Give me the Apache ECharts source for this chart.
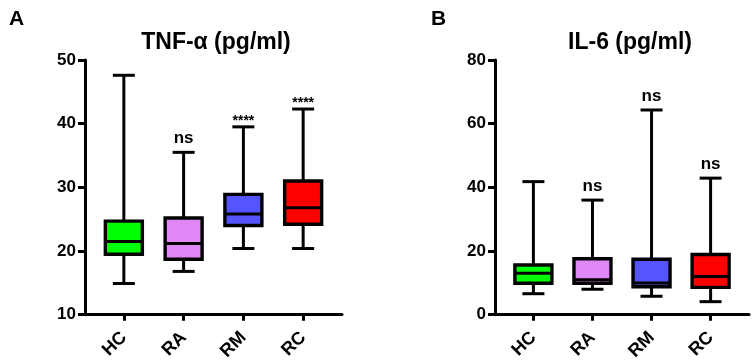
<!DOCTYPE html>
<html>
<head>
<meta charset="utf-8">
<script src="https://cdn.jsdelivr.net/npm/echarts@6/dist/echarts.min.js"></script>
<style>
  html, body { margin: 0; padding: 0; background: #fff; }
  #chartContainer { width: 754px; height: 363px; }
</style>
</head>
<body>
<div id="chartContainer"></div>
<script>
const groups = ['HC', 'RA', 'RM', 'RC'];
const boxColors = ['#00ff00', '#df88f5', '#5555ff', '#ff0000'];

// TNF-alpha (pg/ml)
const tnfMin = [14.9, 16.8, 20.4, 20.4];
const tnfQ1 = [19.5, 18.7, 24.0, 24.2];
const tnfMedian = [21.5, 21.2, 25.8, 26.8];
const tnfQ3 = [24.7, 25.2, 28.9, 31.0];
const tnfMax = [47.6, 35.5, 39.5, 42.3];
const tnfSig = ['', 'ns', '****', '****'];

// IL-6 (pg/ml)
const il6Min = [6.6, 8.0, 5.8, 4.1];
const il6Q1 = [9.9, 9.9, 8.8, 8.6];
const il6Median = [13.0, 11.0, 10.0, 12.0];
const il6Q3 = [15.6, 17.6, 17.4, 18.9];
const il6Max = [41.8, 36.0, 64.3, 42.9];
const il6Sig = ['', 'ns', 'ns', 'ns'];

const tnfTicks = { min: 10, max: 50, interval: 10 };
const il6Ticks = { min: 0, max: 80, interval: 20 };

const FONT = 'Liberation Sans, Arial, sans-serif';

let chart = null;

function buildRows(mins, q1s, meds, q3s, maxs) {
    return groups.map((g, i) => [i, mins[i], q1s[i], meds[i], q3s[i], maxs[i]]);
}

function makeRenderer(sig) {
    return function(params, api) {
        const i = params.dataIndex;
        const x = api.value(0);
        const pt = dim => api.coord([x, api.value(dim)]);
        const pMin = pt(1), pQ1 = pt(2), pMed = pt(3), pQ3 = pt(4), pMax = pt(5);
        const cx = pMin[0];
        const half = 18.5, cap = 11;
        const line = { stroke: '#000', lineWidth: 3 };
        const children = [
            { type: 'line', shape: { x1: cx, y1: pMin[1], x2: cx, y2: pMax[1] }, style: line },
            { type: 'line', shape: { x1: cx - cap, y1: pMin[1], x2: cx + cap, y2: pMin[1] }, style: line },
            { type: 'line', shape: { x1: cx - cap, y1: pMax[1], x2: cx + cap, y2: pMax[1] }, style: line },
            { type: 'rect', shape: { x: cx - half, y: pQ3[1], width: half * 2, height: pQ1[1] - pQ3[1] },
              style: { fill: boxColors[i], stroke: '#000', lineWidth: 3.4 } },
            { type: 'line', shape: { x1: cx - half, y1: pMed[1], x2: cx + half, y2: pMed[1] }, style: line }
        ];
        if (sig[i]) {
            const stars = sig[i].indexOf('*') >= 0;
            children.push({
                type: 'text',
                style: {
                    text: sig[i], x: cx, y: pMax[1] - (stars ? 6 : 14),
                    align: 'center', verticalAlign: 'middle',
                    fontSize: stars ? 14 : 17, fontWeight: 'bold', fontFamily: FONT, fill: '#000'
                }
            });
        }
        return { type: 'group', children };
    };
}

function xAxisFor(gridIndex) {
    return {
        type: 'value', gridIndex, min: -0.65, max: 3.65,
        axisLine: { show: true, lineStyle: { color: '#000', width: 3 } },
        axisTick: { show: true, customValues: [0, 1, 2, 3], length: 6, lineStyle: { color: '#000', width: 3 } },
        axisLabel: {
            customValues: [0, 1, 2, 3], rotate: 45, margin: 20,
            formatter: v => groups[Math.round(v)],
            color: '#000', fontSize: 18, fontWeight: 'bold', fontFamily: FONT
        },
        splitLine: { show: false }
    };
}

function yAxisFor(gridIndex, ticks) {
    return {
        type: 'value', gridIndex, min: ticks.min, max: ticks.max, interval: ticks.interval,
        axisLine: { show: true, onZero: false, lineStyle: { color: '#000', width: 3 } },
        axisTick: { show: true, length: 7, lineStyle: { color: '#000', width: 3 } },
        axisLabel: { color: '#000', fontSize: 17, fontWeight: 'bold', fontFamily: FONT, margin: 9 },
        splitLine: { show: false }
    };
}

function updateChart() {
    const titleStyle = { color: '#000', fontWeight: 'bold', fontFamily: FONT };
    const option = {
        animation: false,
        title: [
            { text: 'A', left: 4, top: 4, textStyle: Object.assign({ fontSize: 21 }, titleStyle) },
            { text: 'B', left: 426, top: 4, textStyle: Object.assign({ fontSize: 21 }, titleStyle) },
            { text: 'TNF-α (pg/ml)', left: 211, top: 26, textAlign: 'center', textStyle: Object.assign({ fontSize: 23 }, titleStyle) },
            { text: 'IL-6 (pg/ml)', left: 625, top: 26, textAlign: 'center', textStyle: Object.assign({ fontSize: 23 }, titleStyle) }
        ],
        grid: [
            { left: 85, top: 60, width: 257, height: 255 },
            { left: 495, top: 60, width: 254, height: 255 }
        ],
        xAxis: [xAxisFor(0), xAxisFor(1)],
        yAxis: [yAxisFor(0, tnfTicks), yAxisFor(1, il6Ticks)],
        series: [
            {
                name: 'TNF-α', type: 'custom', xAxisIndex: 0, yAxisIndex: 0,
                encode: { x: 0, y: [1, 2, 3, 4, 5] },
                renderItem: makeRenderer(tnfSig),
                data: buildRows(tnfMin, tnfQ1, tnfMedian, tnfQ3, tnfMax)
            },
            {
                name: 'IL-6', type: 'custom', xAxisIndex: 1, yAxisIndex: 1,
                encode: { x: 0, y: [1, 2, 3, 4, 5] },
                renderItem: makeRenderer(il6Sig),
                data: buildRows(il6Min, il6Q1, il6Median, il6Q3, il6Max)
            }
        ]
    };
    chart.setOption(option, true);
}

document.addEventListener('DOMContentLoaded', function() {
    chart = echarts.init(document.getElementById('chartContainer'));
    updateChart();
});
</script>
</body>
</html>
